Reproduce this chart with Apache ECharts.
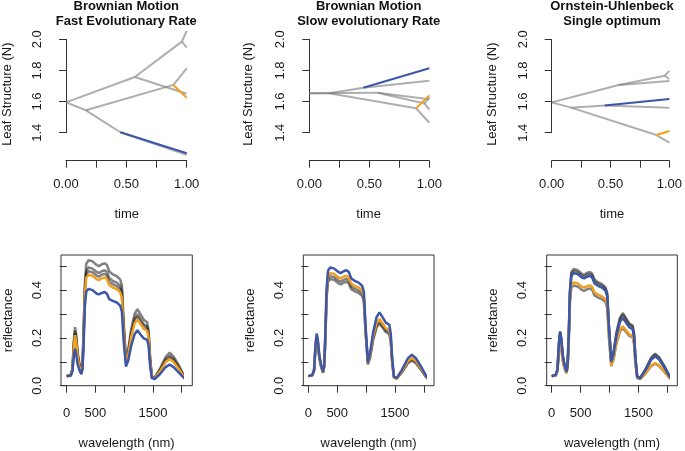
<!DOCTYPE html>
<html><head><meta charset="utf-8">
<script src="https://cdn.jsdelivr.net/npm/echarts@6/dist/echarts.min.js"></script>
<style>html,body{margin:0;padding:0;background:#fff}#c{width:685px;height:451px}</style>
</head><body><div id="c"></div>
<script>
// ---------- DATA ----------
const panelTitles = [
  'Brownian Motion\nFast Evolutionary Rate',
  'Brownian Motion\nSlow evolutionary Rate',
  'Ornstein-Uhlenbeck\nSingle optimum'
];
// tree nodes: 0 root, 1 B, 2 N, 3 A, 4 E, 5 C, 6..12 tips
const nodeTime = [0, 0.165, 0.45, 0.57, 0.89, 0.96, 1, 1, 1, 1, 1, 1, 1];
const treeEdges = [[0,1],[0,3],[1,2],[1,4],[3,5],[3,6],[5,7],[5,8],[2,10],[4,12],[2,9],[4,11]];
const blueEdgeIndex = 10;
const orangeEdgeIndex = 11;
const traitFast = [1.595, 1.544, 1.403, 1.758, 1.707, 1.985, 1.650, 2.054, 1.946, 1.268, 1.258, 1.625, 1.814];
const traitSlow = [1.653, 1.653, 1.689, 1.657, 1.557, 1.588, 1.615, 1.625, 1.548, 1.814, 1.734, 1.640, 1.464];
const traitOU   = [1.595, 1.561, 1.574, 1.707, 1.385, 1.766, 1.732, 1.797, 1.745, 1.617, 1.561, 1.411, 1.336];

const timeTicks = [0, 0.5, 1];
const wlTicks = [0, 500, 1500];
const reflTicks = [0, 0.2, 0.4];

const wavelength = [0, 70, 100, 125, 145, 165, 190, 220, 255, 275, 295, 315, 340, 380, 450, 520, 560, 610, 660, 700, 740, 800, 870, 930, 960, 990, 1030, 1070, 1120, 1180, 1230, 1280, 1340, 1400, 1425, 1450, 1480, 1530, 1620, 1720, 1790, 1860, 1950, 2030, 2090];

// Panel 4 (BM fast)
const fastGray1 = [0.040,0.045,0.070,0.190,0.245,0.215,0.140,0.095,0.062,0.090,0.230,0.420,0.510,0.525,0.520,0.505,0.500,0.508,0.512,0.505,0.478,0.466,0.458,0.445,0.420,0.270,0.115,0.150,0.235,0.300,0.320,0.300,0.276,0.265,0.230,0.120,0.040,0.034,0.070,0.120,0.138,0.122,0.085,0.045,0.025];
const fastGray2 = [0.040,0.045,0.068,0.178,0.229,0.200,0.130,0.089,0.059,0.085,0.218,0.400,0.481,0.495,0.490,0.476,0.471,0.479,0.483,0.476,0.450,0.439,0.431,0.418,0.394,0.251,0.107,0.139,0.219,0.280,0.299,0.280,0.257,0.248,0.214,0.112,0.038,0.033,0.065,0.110,0.125,0.111,0.078,0.043,0.024];
const fastGray3 = [0.040,0.044,0.066,0.172,0.220,0.192,0.125,0.086,0.058,0.082,0.212,0.390,0.466,0.479,0.475,0.461,0.456,0.464,0.468,0.461,0.435,0.425,0.417,0.404,0.381,0.241,0.102,0.134,0.210,0.270,0.288,0.270,0.248,0.239,0.206,0.108,0.037,0.032,0.062,0.104,0.118,0.105,0.074,0.042,0.024];
const fastOrange = [0.040,0.044,0.065,0.165,0.212,0.185,0.120,0.082,0.056,0.080,0.205,0.380,0.452,0.464,0.460,0.446,0.442,0.449,0.453,0.446,0.421,0.411,0.404,0.391,0.368,0.232,0.098,0.128,0.202,0.260,0.278,0.260,0.238,0.230,0.198,0.103,0.036,0.031,0.059,0.099,0.112,0.099,0.070,0.040,0.023];
const fastBlue = [0.040,0.042,0.060,0.130,0.155,0.130,0.090,0.065,0.048,0.070,0.180,0.330,0.395,0.405,0.400,0.385,0.382,0.388,0.392,0.385,0.362,0.355,0.348,0.335,0.310,0.190,0.080,0.105,0.165,0.215,0.232,0.215,0.198,0.192,0.165,0.085,0.032,0.028,0.048,0.078,0.088,0.078,0.055,0.035,0.022];

// Panel 5 (BM slow)
const slowGray1 = [0.040,0.044,0.064,0.165,0.206,0.182,0.120,0.083,0.056,0.080,0.202,0.372,0.446,0.458,0.454,0.440,0.436,0.443,0.447,0.440,0.416,0.406,0.399,0.387,0.364,0.229,0.093,0.124,0.198,0.252,0.268,0.252,0.231,0.223,0.192,0.100,0.035,0.030,0.058,0.097,0.110,0.098,0.069,0.039,0.023];
const slowGray2 = [0.040,0.043,0.062,0.158,0.196,0.174,0.115,0.080,0.054,0.077,0.196,0.362,0.434,0.446,0.442,0.428,0.424,0.431,0.435,0.428,0.404,0.395,0.388,0.376,0.353,0.222,0.089,0.119,0.190,0.244,0.260,0.244,0.224,0.216,0.186,0.097,0.034,0.030,0.056,0.094,0.106,0.094,0.066,0.038,0.022];
const slowOrange = [0.040,0.044,0.066,0.170,0.212,0.188,0.124,0.086,0.057,0.082,0.208,0.383,0.459,0.471,0.467,0.453,0.449,0.456,0.460,0.453,0.428,0.418,0.411,0.398,0.375,0.238,0.097,0.130,0.206,0.262,0.279,0.262,0.241,0.233,0.200,0.104,0.036,0.031,0.061,0.102,0.116,0.103,0.072,0.041,0.023];
const slowBlue = [0.040,0.045,0.067,0.172,0.218,0.192,0.128,0.088,0.059,0.085,0.218,0.400,0.481,0.495,0.490,0.476,0.471,0.479,0.483,0.476,0.450,0.439,0.431,0.418,0.394,0.250,0.100,0.140,0.222,0.287,0.307,0.288,0.264,0.255,0.220,0.115,0.038,0.033,0.067,0.114,0.130,0.115,0.080,0.044,0.024];

// Panel 6 (OU)
const ouGray1 = [0.040,0.045,0.068,0.178,0.228,0.200,0.130,0.089,0.059,0.085,0.216,0.395,0.475,0.488,0.483,0.469,0.464,0.472,0.476,0.469,0.444,0.433,0.425,0.412,0.388,0.250,0.106,0.140,0.222,0.284,0.304,0.285,0.261,0.252,0.218,0.114,0.038,0.033,0.068,0.117,0.134,0.118,0.082,0.044,0.024];
const ouGray2 = [0.040,0.045,0.067,0.175,0.224,0.196,0.128,0.088,0.058,0.084,0.212,0.389,0.467,0.480,0.475,0.461,0.456,0.464,0.468,0.461,0.436,0.426,0.418,0.405,0.382,0.245,0.104,0.137,0.217,0.278,0.297,0.279,0.256,0.247,0.213,0.111,0.037,0.032,0.066,0.113,0.130,0.115,0.080,0.043,0.024];
const ouGray3 = [0.040,0.043,0.061,0.146,0.184,0.158,0.105,0.074,0.052,0.074,0.188,0.346,0.410,0.419,0.415,0.401,0.397,0.403,0.407,0.401,0.378,0.369,0.362,0.350,0.327,0.203,0.082,0.110,0.176,0.227,0.241,0.227,0.209,0.202,0.174,0.090,0.032,0.028,0.050,0.082,0.092,0.082,0.058,0.035,0.022];
const ouOrange = [0.040,0.043,0.062,0.150,0.190,0.163,0.108,0.076,0.053,0.076,0.194,0.356,0.422,0.432,0.428,0.414,0.410,0.416,0.420,0.414,0.390,0.381,0.374,0.361,0.338,0.210,0.085,0.114,0.182,0.234,0.248,0.234,0.215,0.208,0.179,0.093,0.033,0.029,0.052,0.085,0.095,0.085,0.060,0.036,0.022];
const ouBlue = [0.040,0.045,0.067,0.175,0.222,0.195,0.127,0.087,0.058,0.083,0.208,0.383,0.459,0.471,0.467,0.453,0.449,0.456,0.460,0.453,0.428,0.418,0.411,0.398,0.375,0.240,0.100,0.132,0.208,0.266,0.283,0.266,0.245,0.236,0.203,0.106,0.036,0.031,0.063,0.108,0.123,0.109,0.076,0.042,0.023];

// ---------- STYLE / LAYOUT ----------
const FONT = "'Liberation Sans', Arial, Helvetica, sans-serif";
const TXT = '#1a1a1a';
const AX = '#333';
const BLUE = '#3c56aa';
const ORANGE = '#f0a01e';
const TREE_GRAY = 'rgba(125,125,125,0.62)';
const SPEC_GRAY = 'rgba(25,25,25,0.55)';

const topData = [
  {left: 66, width: 120.7}, {left: 309.3, width: 120}, {left: 551.7, width: 120.6}
];
const topRegion = [
  {left: 61, width: 130.5}, {left: 303.3, width: 130.7}, {left: 546.7, width: 130.6}
];
const botData = [
  {left: 66.7, width: 115}, {left: 308.3, width: 115.7}, {left: 551.7, width: 115.6}
];
const botBox = [
  {left: 61, width: 131.3}, {left: 303.3, width: 130.7}, {left: 546.7, width: 130.6}
];
const titleCenters = [126.3, 368.7, 612];

const grids = [], xAxes = [], yAxes = [], series = [];
const baseLabel = {fontSize: 13, color: TXT, fontFamily: FONT};
const lineSt = {color: AX, width: 1};

function addGrid(g, xa, ya) {
  const idx = grids.length;
  grids.push(g);
  xa.gridIndex = idx; ya.gridIndex = idx;
  xAxes.push(xa); yAxes.push(ya);
  return idx;
}
function nameOnly(name, gap, min, max) {
  return {
    type: 'value', min: min, max: max, name: name, nameLocation: 'middle', nameGap: gap,
    nameTextStyle: {fontSize: 13, color: TXT, fontFamily: FONT},
    axisLine: {show: false}, axisTick: {show: false}, axisLabel: {show: false}, splitLine: {show: false}
  };
}

// top panels
const traits = [traitFast, traitSlow, traitOU];
for (let p = 0; p < 3; p++) {
  const gi = addGrid(
    {left: topData[p].left, top: 39.3, width: topData[p].width, height: 93.4, containLabel: false},
    {type: 'value', min: 0, max: 1, interval: 0.25, offset: 28,
     axisLine: {show: true, lineStyle: lineSt}, axisTick: {show: true, length: 7, lineStyle: lineSt},
     axisLabel: Object.assign({}, baseLabel, {margin: 17, showMinLabel: true, showMaxLabel: true,
       formatter: v => timeTicks.some(t => Math.abs(t - v) < 1e-9) ? v.toFixed(2) : ''}),
     splitLine: {show: false}},
    {type: 'value', min: 1.4, max: 2.0, interval: 0.2, offset: 5,
     axisLine: {show: true, lineStyle: lineSt}, axisTick: {show: true, length: 7, lineStyle: lineSt},
     axisLabel: Object.assign({}, baseLabel, {margin: 17, rotate: 90, showMinLabel: true, showMaxLabel: true,
       formatter: v => v.toFixed(1)}),
     splitLine: {show: false}}
  );
  const tr = traits[p];
  treeEdges.forEach((e, k) => {
    let col = TREE_GRAY, z = 2;
    if (k === blueEdgeIndex) { col = BLUE; z = 4; }
    if (k === orangeEdgeIndex) { col = ORANGE; z = 4; }
    series.push({
      type: 'line', xAxisIndex: gi, yAxisIndex: gi, clip: false, silent: true, symbol: 'none',
      z: z, lineStyle: {color: col, width: 2}, animation: false,
      data: [[nodeTime[e[0]], tr[e[0]]], [nodeTime[e[1]], tr[e[1]]]]
    });
  });
  addGrid(
    {left: topRegion[p].left, top: 27.4, width: topRegion[p].width, height: 133.6, show: false},
    nameOnly('time', 47, 0, 1),
    nameOnly('Leaf Structure (N)', 48, 0, 1)
  );
}

// bottom panels
const spectraSets = [
  {grays: [fastGray1, fastGray2, fastGray3], orange: fastOrange, blue: fastBlue},
  {grays: [slowGray1, slowGray2], orange: slowOrange, blue: slowBlue},
  {grays: [ouGray1, ouGray2, ouGray3], orange: ouOrange, blue: ouBlue}
];
for (let p = 0; p < 3; p++) {
  addGrid(
    {left: botBox[p].left, top: 255, width: botBox[p].width, height: 130.7, show: true,
     borderColor: AX, borderWidth: 1, backgroundColor: 'transparent'},
    nameOnly('wavelength (nm)', 51, 0, 1),
    nameOnly('reflectance', 46.5, 0, 1)
  );
  const gi = addGrid(
    {left: botData[p].left, top: 266.2, width: botData[p].width, height: 119.5},
    {type: 'value', min: 0, max: 2000, interval: 500, offset: 0,
     axisLine: {show: false}, axisTick: {show: true, length: 7, lineStyle: lineSt},
     axisLabel: Object.assign({}, baseLabel, {margin: 21, showMinLabel: true, showMaxLabel: true,
       formatter: v => wlTicks.indexOf(Math.round(v)) >= 0 ? String(Math.round(v)) : ''}),
     splitLine: {show: false}},
    {type: 'value', min: 0, max: 0.5, interval: 0.1, offset: 5.7,
     axisLine: {show: false}, axisTick: {show: true, length: 7, lineStyle: lineSt},
     axisLabel: Object.assign({}, baseLabel, {margin: 17, rotate: 90, showMinLabel: true, showMaxLabel: true,
       formatter: v => reflTicks.some(t => Math.abs(t - v) < 1e-9) ? v.toFixed(1) : ''}),
     splitLine: {show: false}}
  );
  const s = spectraSets[p];
  const mk = (vals, col, w, z) => ({
    type: 'line', xAxisIndex: gi, yAxisIndex: gi, clip: false, silent: true, symbol: 'none',
    z: z, lineStyle: {color: col, width: w}, animation: false,
    data: wavelength.map((x, i) => [x, vals[i]])
  });
  s.grays.forEach(g => series.push(mk(g, SPEC_GRAY, 2.5, 2)));
  series.push(mk(s.orange, ORANGE, 2.5, 3));
  series.push(mk(s.blue, BLUE, 2.5, 4));
}

const titleComps = panelTitles.map((t, i) => ({
  text: t, left: titleCenters[i], top: -1, padding: 0, textAlign: 'center', textVerticalAlign: 'top',
  textStyle: {fontSize: 13, fontWeight: 'bold', color: '#111', fontFamily: FONT, lineHeight: 15}
}));

const chart = echarts.init(document.getElementById('c'), null, {renderer: 'canvas'});
chart.setOption({
  animation: false,
  backgroundColor: '#fff',
  title: titleComps,
  grid: grids, xAxis: xAxes, yAxis: yAxes, series: series
});
</script></body></html>
